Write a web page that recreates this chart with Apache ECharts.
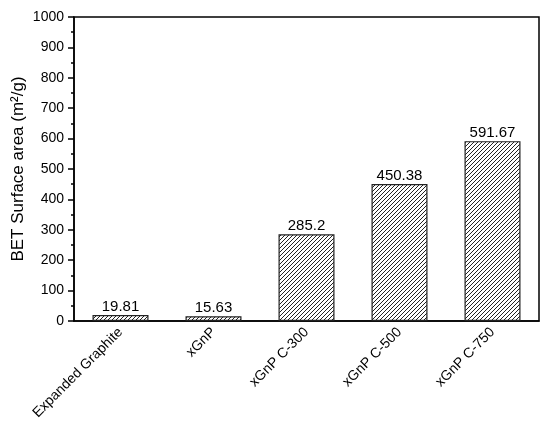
<!DOCTYPE html>
<html><head><meta charset="utf-8">
<script src="https://cdn.jsdelivr.net/npm/echarts@6/dist/echarts.min.js"></script>
<style>html,body{margin:0;padding:0;background:#fff}#c{width:550px;height:423px}</style>
</head><body><div id="c"></div>
<script>
const categories = ['Expanded Graphite', 'xGnP', 'xGnP C-300', 'xGnP C-500', 'xGnP C-750'];
const values = [19.81, 15.63, 285.2, 450.38, 591.67];
const valueLabels = ['19.81', '15.63', '285.2', '450.38', '591.67'];

const pc = document.createElement('canvas');
pc.width = 4; pc.height = 4;
const g = pc.getContext('2d');
g.fillStyle = '#fff'; g.fillRect(0,0,4,4);
g.strokeStyle = '#222'; g.lineWidth = 1;
g.beginPath();
g.moveTo(-1,5); g.lineTo(5,-1);
g.moveTo(-1,1); g.lineTo(1,-1);
g.moveTo(3,5); g.lineTo(5,3);
g.stroke();

const chart = echarts.init(document.getElementById('c'), null, {renderer:'canvas'});
const font = 'Liberation Sans, Arial, sans-serif';
chart.setOption({
  animation: false,
  grid: {left: 74, right: 11, top: 17, bottom: 102, show: true, borderColor: '#000', borderWidth: 1.5,
    containLabel: false, outerBoundsMode: 'none'},
  xAxis: {
    type: 'category', data: categories,
    axisLine: {lineStyle: {color: '#000', width: 1.5}},
    axisTick: {alignWithLabel: true, length: 6, lineStyle: {color: '#000', width: 1.5}},
    axisLabel: {rotate: 45, color: '#000', fontSize: 14, fontFamily: font, margin: 9}
  },
  yAxis: {
    type: 'value', min: 0, max: 1000, interval: 100,
    name: 'BET Surface area (m²/g)', nameLocation: 'middle', nameGap: 47, nameMoveOverlap: false,
    nameTextStyle: {fontSize: 17, fontFamily: font, color: '#000'},
    axisLine: {show: true, lineStyle: {color: '#000', width: 1.5}},
    axisTick: {show: true, length: 6, lineStyle: {color: '#000', width: 1.5}},
    minorTick: {show: true, splitNumber: 2, length: 3, lineStyle: {color: '#000', width: 1.5}},
    splitLine: {show: false},
    axisLabel: {color: '#000', fontSize: 14, fontFamily: font, margin: 10, formatter: v => String(v)}
  },
  series: [{
    type: 'bar', data: values, barWidth: 56,
    itemStyle: {color: {image: pc, repeat: 'repeat'}, borderColor: '#222', borderWidth: 1.2},
    label: {show: true, position: 'top', distance: 1, color: '#000', fontSize: 15, fontFamily: font,
      formatter: p => valueLabels[p.dataIndex]}
  }]
});
</script></body></html>
